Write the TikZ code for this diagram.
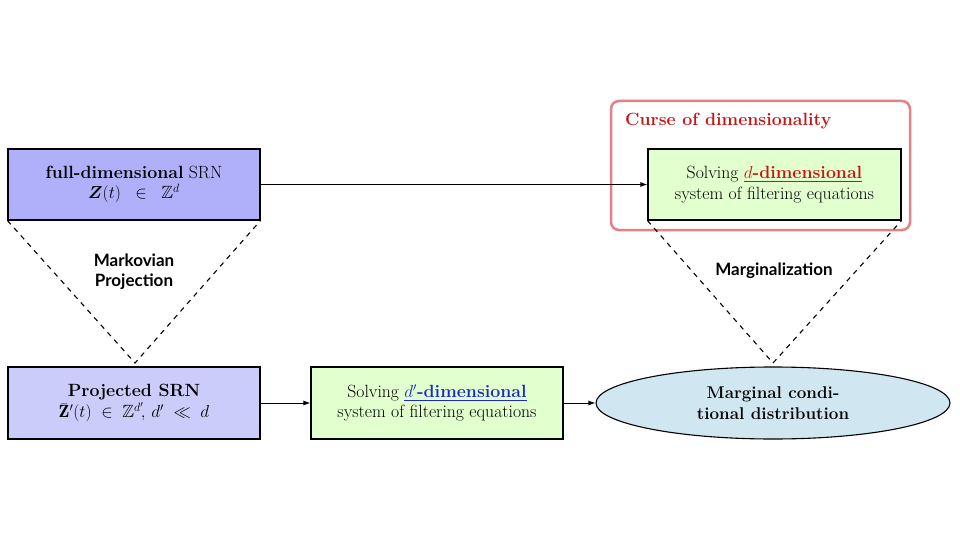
\documentclass[tikz,border=0pt]{standalone}
\usepackage{amsmath,amssymb}
\usepackage{fontspec}
\newfontfamily\lato{Lato}
\usetikzlibrary{shapes.geometric,arrows.meta}
\definecolor{boxblue}{RGB}{176,176,250}
\definecolor{boxblue2}{RGB}{204,204,250}
\definecolor{boxgreen}{RGB}{226,255,206}
\definecolor{elblue}{RGB}{208,230,240}
\definecolor{cursered}{RGB}{228,128,134}
\definecolor{titlered}{RGB}{200,20,20}
\definecolor{dblue}{RGB}{30,40,200}
\tikzset{
  srnbox/.style={draw=black, line width=1.1pt, minimum width=252pt, minimum height=71pt, align=center, inner sep=2pt},
  ellbox/.style={ellipse, draw=black, line width=1.1pt, fill=elblue, minimum width=354pt, minimum height=72pt, align=center, inner sep=0pt, font=\fontsize{17}{20.5}\selectfont},
  arr/.style={-{Latex[length=7pt,width=5pt]}, line width=1pt},
  dsh/.style={dashed, dash pattern=on 5pt off 5pt, line width=1.1pt},
  lbl/.style={font=\lato\bfseries\fontsize{17}{20}\selectfont, align=center},
}
\begin{document}
\begin{tikzpicture}[x=1pt,y=-1pt,font=\fontsize{17.7}{20.5}\selectfont]
\useasboundingbox (0,0) rectangle (960,540);
% curse box
\node[draw=cursered, rounded corners=8pt, line width=2.5pt, minimum width=299pt, minimum height=129pt] (curse) at (760.5,165.5) {};
\node[anchor=west, text=titlered, inner sep=0pt] (cursetitle) at (625,121) {\textbf{Curse of dimensionality}};
% boxes
\node[srnbox, fill=boxblue] (full) at (134,184.5) {\textbf{full-dimensional} SRN\\ $\boldsymbol{Z}(t) \;\;\in\;\; \mathbb{Z}^d$};
\node[srnbox, fill=boxgreen, minimum width=253pt] (dsolve) at (774.5,184.5) {Solving \textcolor{titlered}{\underline{$d$\textbf{-dimensional}}}\\ system of filtering equations};
\node[srnbox, fill=boxblue2, minimum height=72pt] (proj) at (134,403) {\textbf{Projected SRN}\\[1pt] $\bar{\mathbf{Z}}'(t)\;\in\;\mathbb{Z}^{d'}\!,\, d'\;\ll\; d$};
\node[srnbox, fill=boxgreen, minimum height=72pt] (psolve) at (437,403) {Solving \textcolor{dblue}{\underline{$d'$\textbf{-dimensional}}}\\ system of filtering equations};
\node[ellbox] (marg) at (773,403) {\textbf{Marginal condi-}\\ \textbf{tional distribution}};
% arrows
\draw[arr] (full.east) -- (dsolve.west);
\draw[arr] (proj.east) -- (psolve.west);
\draw[arr] (psolve.east) -- (marg.west);
% dashed projections
\coordinate (mp) at (135,363);
\coordinate (mg) at (773,363);
\draw[dsh] (full.south west) -- (mp) -- (full.south east);
\draw[dsh] (dsolve.south west) -- (mg) -- (dsolve.south east);
\node[lbl] (mplabel) at (134,272) {Markovian\\Projection};
\node[lbl] (mglabel) at (774,271) {Marginalization};
\end{tikzpicture}
\end{document}
